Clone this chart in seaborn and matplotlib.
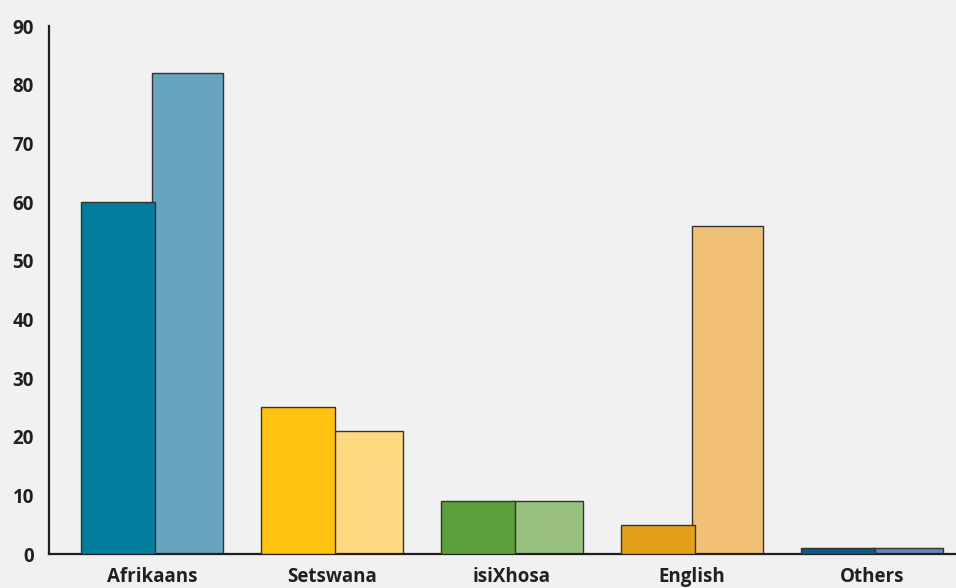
import matplotlib
matplotlib.use("Agg")
import matplotlib.pyplot as plt
import pandas as pd
import seaborn as sns

languages = ["Afrikaans", "Setswana", "isiXhosa", "English", "Others"]
series_a = [60, 25, 9, 5, 1]
series_b = [82, 21, 9, 56, 1]
colors_a = ["#037c9d", "#ffc20e", "#5b9f3a", "#e2a118", "#0f5a88"]
colors_b = ["#68a3bf", "#ffd982", "#97c07e", "#efc076", "#6089b8"]
y_ticks = [0, 10, 20, 30, 40, 50, 60, 70, 80, 90]

df = pd.DataFrame({
    "language": languages * 2,
    "share": series_a + series_b,
    "series": ["a"] * len(languages) + ["b"] * len(languages),
})

sns.set_style("white")
plt.rcParams["font.family"] = ["Open Sans", "DejaVu Sans"]

fig = plt.figure(figsize=(9.56, 5.88), dpi=100)
fig.patch.set_facecolor("#f1f1f1")
ax = fig.add_axes([0.0513, 0.0578, 0.9487, 0.8978])
ax.set_facecolor("#f1f1f1")

sns.barplot(data=df, x="language", y="share", hue="series", order=languages,
            palette=["#888888", "#bbbbbb"], width=0.79, dodge=True, legend=False,
            edgecolor="#333333", linewidth=1.0, saturation=1, ax=ax)

# colour each bar by its language, first bar of a pair sits slightly over the second
for i, cont in enumerate(ax.containers):
    cols = colors_a if i == 0 else colors_b
    for bar, c in zip(cont, cols):
        bar.set_facecolor(c)
        if i == 0:
            bar.set_width(bar.get_width() * 1.045)
            bar.set_zorder(3)
        else:
            bar.set_zorder(2)

ax.set_xlim(-0.572, 4.467)
ax.set_ylim(0, 90)
ax.set_yticks(y_ticks)
ax.set_xlabel("")
ax.set_ylabel("")

for side in ["top", "right"]:
    ax.spines[side].set_visible(False)
for side in ["left", "bottom"]:
    ax.spines[side].set_color("#231f20")
    ax.spines[side].set_linewidth(1.6)

ax.tick_params(axis="y", length=0, pad=11, labelsize=13.5, labelcolor="#231f20")
ax.tick_params(axis="x", length=0, pad=9, labelsize=13.5, labelcolor="#231f20")
for lab in ax.get_xticklabels() + ax.get_yticklabels():
    lab.set_fontweight("bold")

fig.savefig("out.png", dpi=100, facecolor=fig.get_facecolor())
